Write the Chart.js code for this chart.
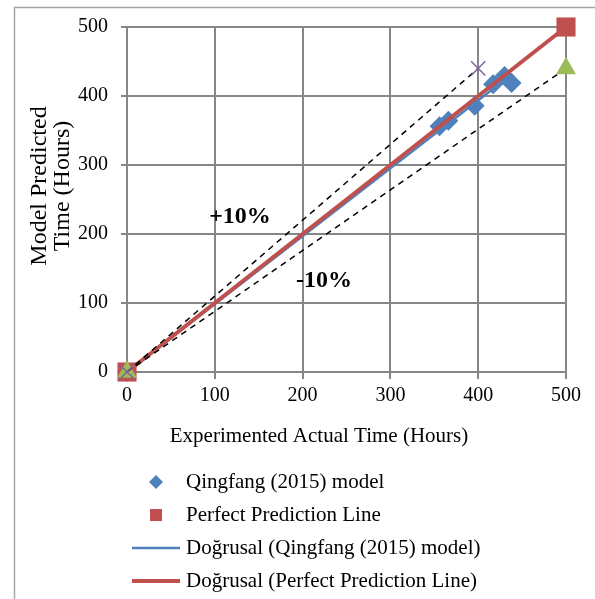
<!DOCTYPE html>
<html>
<head>
<meta charset="utf-8">
<script src="https://cdn.jsdelivr.net/npm/chart.js@4.4.1/dist/chart.umd.min.js"></script>
<style>
  html, body { margin: 0; padding: 0; background: #fff; }
  #wrap { width: 595px; height: 599px; }
</style>
</head>
<body>
<div id="wrap"><canvas id="myChart" width="595" height="599"></canvas></div>
<script>
// veriler
const qingfangX = [0, 356, 366, 396, 417, 430, 438];
const qingfangY = [0, 356, 364, 386, 417, 429, 419];
const perfectX = [0, 500];
const perfectY = [0, 500];
const plusTenX = [0, 400];
const plusTenY = [0, 440];
const minusTenX = [0, 500];
const minusTenY = [0, 440];
const qingfangTrendX = [0, 438];
const qingfangTrendY = [0, 431];
const perfectTrendX = [0, 500];
const perfectTrendY = [0, 500];
const tickValues = [0, 100, 200, 300, 400, 500];

const legendLabels = [
    'Qingfang (2015) model',
    'Perfect Prediction Line',
    'Doğrusal (Qingfang (2015) model)',
    'Doğrusal (Perfect Prediction Line)'
];

const BLUE = '#4F81BD', RED = '#C0504D', GREEN = '#9BBB59', PURPLE = '#8064A2';
const GRID = '#868686';
const FONT = 'Liberation Serif';

function toPoints(xs, ys) {
    return xs.map((x, i) => ({ x: x, y: ys[i] }));
}

// eksen başlıkları, etiketler, lejant ve çerçeve
const extras = {
    id: 'extras',
    beforeDraw(chart) {
        const c = chart.ctx;
        c.save();
        c.fillStyle = '#fff';
        c.fillRect(0, 0, chart.width, chart.height);
        c.strokeStyle = '#a6a6a6';
        c.lineWidth = 1.5;
        c.beginPath();
        c.moveTo(14.5, chart.height);
        c.lineTo(14.5, 7.5);
        c.lineTo(chart.width, 7.5);
        c.stroke();
        c.restore();
    },
    afterDraw(chart) {
        const c = chart.ctx;
        c.save();
        c.fillStyle = '#000';
        c.textBaseline = 'middle';
        c.textAlign = 'center';
        c.font = '21px "' + FONT + '"';
        c.fillText('Experimented Actual Time (Hours)', 319, 436);

        // y ekseni başlığı (iki satır)
        c.font = '24px "' + FONT + '"';
        c.textBaseline = 'alphabetic';
        c.save();
        c.translate(46, 186);
        c.rotate(-Math.PI / 2);
        c.fillText('Model Predicted', 0, 0);
        c.restore();
        c.save();
        c.translate(69, 186);
        c.rotate(-Math.PI / 2);
        c.fillText('Time (Hours)', 0, 0);
        c.restore();

        c.textBaseline = 'middle';
        c.font = 'bold 24px "' + FONT + '"';
        c.fillText('+10%', 240, 217);
        c.fillText('-10%', 324, 281);

        // lejant
        const rows = [482, 515, 548, 581];
        const ds = chart.data.datasets;
        const items = [
            { d: ds[0], kind: 'point', r: 7 },
            { d: ds[1], kind: 'point', r: 8.5 },
            { d: ds[4], kind: 'line' },
            { d: ds[5], kind: 'line' }
        ];
        items.forEach((it, i) => {
            const y = rows[i];
            if (it.kind === 'point') {
                c.fillStyle = it.d.backgroundColor;
                c.strokeStyle = it.d.borderColor;
                Chart.helpers.drawPoint(c, { pointStyle: it.d.pointStyle, radius: it.r, rotation: 0, borderWidth: 0 }, 156, y);
            } else {
                c.strokeStyle = it.d.borderColor;
                c.lineWidth = it.d.borderWidth;
                c.beginPath();
                c.moveTo(132, y);
                c.lineTo(180, y);
                c.stroke();
            }
            c.fillStyle = '#000';
            c.textAlign = 'left';
            c.font = '21px "' + FONT + '"';
            c.fillText(legendLabels[i], 186, y);
        });
        c.restore();
    }
};

const ctx = document.getElementById('myChart').getContext('2d');

let myChart = new Chart(ctx, {
    type: 'scatter',
    data: {
        datasets: [
            {
                label: legendLabels[0],
                data: toPoints(qingfangX, qingfangY),
                pointStyle: 'rectRot',
                pointRadius: 10,
                backgroundColor: BLUE,
                borderColor: BLUE,
                borderWidth: 0,
                showLine: false,
                order: 10,
                clip: false
            },
            {
                label: legendLabels[1],
                data: toPoints(perfectX, perfectY),
                pointStyle: 'rect',
                pointRadius: 13.5,
                backgroundColor: RED,
                borderColor: RED,
                borderWidth: 0,
                showLine: false,
                order: 7,
                clip: false
            },
            {
                label: '+10%',
                data: toPoints(plusTenX, plusTenY),
                pointStyle: 'crossRot',
                pointRadius: 10,
                pointBorderColor: PURPLE,
                pointBorderWidth: 1.5,
                borderColor: '#000',
                borderWidth: 1.5,
                borderDash: [6, 5],
                showLine: true,
                order: 5,
                clip: false
            },
            {
                label: '-10%',
                data: toPoints(minusTenX, minusTenY),
                pointStyle: 'triangle',
                pointRadius: 11.5,
                pointBackgroundColor: GREEN,
                pointBorderColor: GREEN,
                pointBorderWidth: 0,
                borderColor: '#000',
                borderWidth: 1.5,
                borderDash: [6, 5],
                showLine: true,
                order: 6,
                clip: false
            },
            {
                label: legendLabels[2],
                data: toPoints(qingfangTrendX, qingfangTrendY),
                pointRadius: 0,
                borderColor: BLUE,
                borderWidth: 2.5,
                showLine: true,
                order: 9,
                clip: false
            },
            {
                label: legendLabels[3],
                data: toPoints(perfectTrendX, perfectTrendY),
                pointRadius: 0,
                borderColor: RED,
                borderWidth: 4,
                showLine: true,
                order: 8,
                clip: false
            }
        ]
    },
    options: {
        responsive: false,
        animation: false,
        layout: { padding: { left: 0, top: 27, right: 29, bottom: 147 } },
        plugins: {
            legend: { display: false },
            tooltip: { enabled: false }
        },
        scales: {
            x: {
                type: 'linear',
                min: 0,
                max: 500,
                afterBuildTicks: (s) => { s.ticks = tickValues.map(v => ({ value: v })); },
                afterFit: (s) => { s.height = 80; },
                ticks: {
                    color: '#000',
                    padding: 5,
                    maxRotation: 0,
                    font: { family: FONT, size: 20 }
                },
                grid: { color: GRID, lineWidth: 2, tickLength: 7 },
                border: { color: GRID, width: 2 }
            },
            y: {
                type: 'linear',
                min: 0,
                max: 500,
                afterBuildTicks: (s) => { s.ticks = tickValues.map(v => ({ value: v })); },
                afterFit: (s) => { s.width = 127; },
                ticks: {
                    color: '#000',
                    padding: 13,
                    font: { family: FONT, size: 20 }
                },
                grid: { color: GRID, lineWidth: 2, tickLength: 6 },
                border: { color: GRID, width: 2 }
            }
        }
    },
    plugins: [extras]
});
</script>
</body>
</html>
